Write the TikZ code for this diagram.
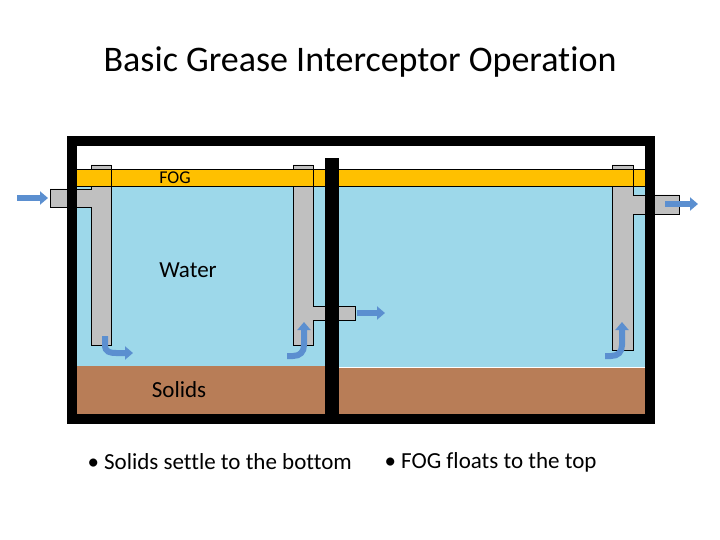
\documentclass[tikz,border=0pt]{standalone}
\usepackage{fontspec}
\setmainfont[Ligatures=NoCommon]{Carlito}
\usetikzlibrary{arrows.meta}
\definecolor{water}{HTML}{9DD8EA}
\definecolor{fog}{HTML}{FFC000}
\definecolor{soil}{HTML}{B87D57}
\definecolor{pipe}{HTML}{C0C0C0}
\definecolor{flow}{HTML}{5B8FD0}
\tikzset{flowarrow/.style={flow,line width=6pt,-{Triangle[length=8pt,width=13pt]}},
pipestyle/.style={fill=pipe,draw=black,line width=0.6pt}}
\begin{document}
\begin{tikzpicture}[x=1pt,y=-1pt]
\useasboundingbox (0,0) rectangle (720,540);
\node (title) at (360,62) {\fontsize{36}{40}\selectfont Basic Grease Interceptor Operation};
% layers
\fill[water] (77,186) rectangle (645,367);
\fill[fog] (77,169) rectangle (645,186);
\draw[black,line width=0.5pt] (77,169) -- (645,169) (77,186) -- (645,186);
\fill[soil] (77,366) rectangle (332,414);
\fill[soil] (332,368) rectangle (645,414);
% pipes
\draw[pipestyle] (50,189) -- (91,189) -- (91,165) -- (111,165) -- (111,345) -- (91,345) -- (91,207) -- (50,207) -- cycle;
\draw[pipestyle] (293,165) -- (313,165) -- (313,306) -- (355,306) -- (355,320) -- (313,320) -- (313,345) -- (293,345) -- cycle;
\draw[pipestyle] (612,165) -- (633,165) -- (633,195) -- (679,195) -- (679,214) -- (633,214) -- (633,350) -- (612,350) -- cycle;
\fill[fog] (91,169) rectangle (111,186);
\fill[fog] (293,169) rectangle (313,186);
\fill[fog] (612,169) rectangle (633,186);
\draw[black,line width=0.5pt] (91,169) -- (111,169) (91,186) -- (111,186) (293,169) -- (313,169) (293,186) -- (313,186) (612,169) -- (633,169) (612,186) -- (633,186);
% tank walls
\draw[black,line width=10pt] (72,141) rectangle (650,419);
\fill[black] (325,158) rectangle (339,414);
% flow arrows
\draw[flowarrow] (17,198) -- (48,198);
\draw[flowarrow] (357,313) -- (385,313);
\draw[flowarrow] (665,204) -- (698,204);
\draw[flowarrow] (105,336) -- (105,345) .. controls (105,352) and (110,353) .. (116,353) -- (133,353);
\draw[flowarrow] (287,356) -- (293,356) .. controls (300,356) and (304,352) .. (304,345) -- (304,322);
\draw[flowarrow] (605,356) -- (611,356) .. controls (618,356) and (622,352) .. (622,345) -- (622,322);
% labels
\node (fogl) at (175,178) {\fontsize{18}{20}\selectfont FOG};
\node (waterl) at (188,270) {\fontsize{23}{26}\selectfont Water};
\node (solidsl) at (179,390) {\fontsize{23}{26}\selectfont Solids};
\node[anchor=west] (b1) at (84,462) {\fontsize{23}{26}\selectfont • Solids settle to the bottom};
\node[anchor=west] (b2) at (381,462) {\fontsize{23}{26}\selectfont • FOG floats to the top};
\end{tikzpicture}
\end{document}
